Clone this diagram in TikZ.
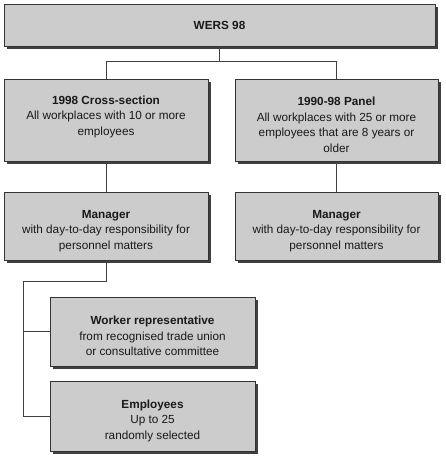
\documentclass[tikz,border=0pt]{standalone}
\usepackage{fontspec}
\setmainfont{Liberation Sans}
\usepackage{tikz}
\usetikzlibrary{positioning, calc, shadows}

\newcommand{\boxhead}[1]{\rule{0pt}{18pt}\textbf{#1}}

\tikzset{
  werbox/.style={draw=black!80, line width=0.8pt, fill=black!20, align=center, inner sep=2pt,
    drop shadow={shadow xshift=3bp, shadow yshift=-3bp, fill=black!75, opacity=1},
    font=\fontsize{11.8}{15.5}\selectfont, text=black!90},
  link/.style={draw=black!75, line width=0.8pt}
}

\begin{document}
\begin{tikzpicture}[x=1bp, y=-1bp]
	\useasboundingbox (0,0) rectangle (446,458);
	% top level
	\node[werbox, minimum width=431bp, minimum height=42bp] (wers) at (219.5,25) {\textbf{WERS 98}};
	% the two samples
	\node[werbox, minimum width=204bp, minimum height=82bp, text depth=18pt] (cross) at (106,120)
		{\boxhead{1998 Cross-section}\\All workplaces with 10 or more\\employees};
	\node[werbox, minimum width=203bp, minimum height=82bp] (panel) at (336.5,120)
		{\boxhead{1990-98 Panel}\\All workplaces with 25 or more\\employees that are 8 years or\\older};
	% managers
	\node[werbox, minimum width=204bp, minimum height=68bp] (mgrcross) at (106,226)
		{\boxhead{Manager}\\with day-to-day responsibility for\\personnel matters};
	\node[werbox, minimum width=203bp, minimum height=68bp] (mgrpanel) at (336.5,226)
		{\boxhead{Manager}\\with day-to-day responsibility for\\personnel matters};
	% respondents below the cross-section manager
	\node[werbox, minimum width=205bp, minimum height=69bp] (worker) at (152.5,331.5)
		{\boxhead{Worker representative}\\from recognised trade union\\or consultative committee};
	\node[werbox, minimum width=205bp, minimum height=70bp] (emps) at (152.5,416)
		{\boxhead{Employees}\\Up to 25\\randomly selected};

	\coordinate (split) at ($(wers.south)+(0,15)$);
	\coordinate (spine) at (23,281);
	\draw[link] (wers.south) -- (split) -| (cross.north);
	\draw[link] (split) -| (panel.north);
	\draw[link] (cross.south) -- (mgrcross.north);
	\draw[link] (panel.south) -- (mgrpanel.north);
	\draw[link] (mgrcross.south) |- (spine) -- (spine |- emps.west) -- (emps.west);
	\draw[link] (spine |- worker.west) -- (worker.west);
\end{tikzpicture}
\end{document}
